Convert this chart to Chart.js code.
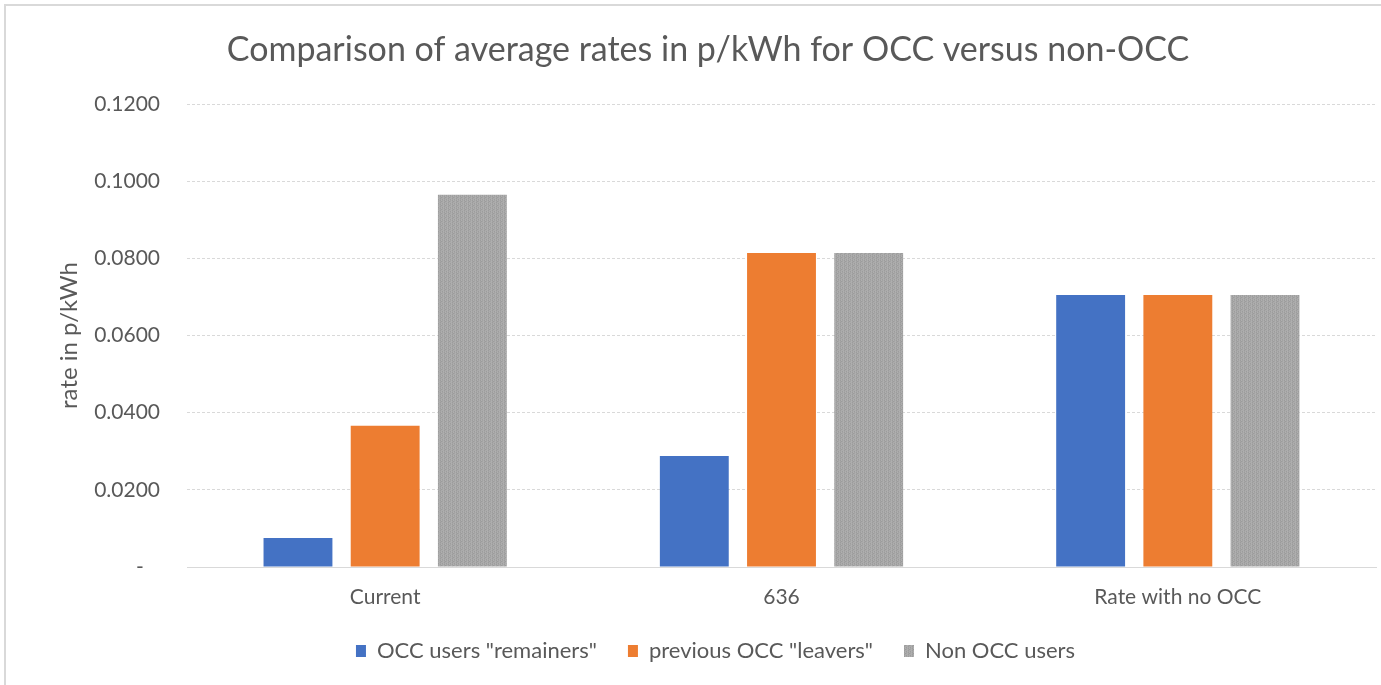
<!DOCTYPE html>
<html>
<head>
<meta charset="utf-8">
<script src="https://cdn.jsdelivr.net/npm/chart.js@4.4.0/dist/chart.umd.min.js"></script>
<style>
  html, body { margin: 0; padding: 0; background: #fff; }
  #wrap { position: relative; width: 1381px; height: 685px; }
  #frame { position: absolute; left: 4px; top: 4px; right: 0; bottom: 0; border-top: 2px solid #D9D9D9; border-left: 2px solid #D9D9D9; pointer-events: none; }
</style>
</head>
<body>
<div id="wrap">
  <canvas id="c" width="1381" height="685"></canvas>
  <div id="frame"></div>
</div>
<script>
const chartTitle = 'Comparison of average rates in p/kWh for OCC versus non-OCC';
const yAxisTitle = 'rate in p/kWh';
const categories = ['Current', '636', 'Rate with no OCC'];
const seriesNames = ['OCC users "remainers"', 'previous OCC "leavers"', 'Non OCC users'];
const remainers = [0.0075, 0.0288, 0.0705];
const leavers = [0.0366, 0.0814, 0.0705];
const nonOcc = [0.0965, 0.0814, 0.0705];
const yTicks = [0, 0.02, 0.04, 0.06, 0.08, 0.10, 0.12];

const FONT = 'Lato';
const TEXT = '#595959';

function grayPattern() {
  const p = document.createElement('canvas');
  p.width = 4; p.height = 4;
  const g = p.getContext('2d');
  const cols = ['#9C9C9C', '#B0B0B0', '#A4A4A4', '#ABABAB'];
  for (let y = 0; y < 4; y++) for (let x = 0; x < 4; x++) {
    g.fillStyle = cols[(x + 2 * y + (x * y) % 3) % 4];
    g.fillRect(x, y, 1, 1);
  }
  return g.createPattern(p, 'repeat');
}
const ctx = document.getElementById('c').getContext('2d');
const gp = grayPattern();

const titlePlugin = {
  id: 'customTitle',
  afterDraw(chart) {
    const c = chart.ctx;
    c.save();
    c.font = `34px ${FONT}`;
    c.fillStyle = TEXT;
    c.textAlign = 'center';
    c.textBaseline = 'middle';
    c.fillText(chartTitle, 708, 50);
    c.restore();
  }
};

new Chart(ctx, {
  type: 'bar',
  data: {
    labels: categories,
    datasets: [
      { label: seriesNames[0], data: remainers, backgroundColor: '#4472C4' },
      { label: seriesNames[1], data: leavers, backgroundColor: '#ED7D31' },
      { label: seriesNames[2], data: nonOcc, backgroundColor: gp }
    ]
  },
  options: {
    responsive: false,
    animation: false,
    layout: { padding: { left: 55, right: 5, top: 104, bottom: 13 } },
    datasets: { bar: { categoryPercentage: 0.66, barPercentage: 0.79 } },
    plugins: {
      title: { display: false },
      tooltip: { enabled: false },
      legend: {
        position: 'bottom',
        labels: {
          color: TEXT,
          font: { family: FONT, size: 22 },
          boxWidth: 10, boxHeight: 12,
          padding: 31
        }
      }
    },
    scales: {
      x: {
        grid: { display: false, drawTicks: false },
        border: { display: true, color: '#D9D9D9', dash: [3, 2] },
        ticks: { color: TEXT, font: { family: FONT, size: 21, lineHeight: 1 }, padding: 20 },
        afterFit(axis) { axis.height = 42; }
      },
      y: {
        min: 0, max: 0.12,
        afterBuildTicks(axis) { axis.ticks = yTicks.map(v => ({ value: v })); },
        grid: { color: '#D9D9D9', drawTicks: false, lineWidth: 1 },
        border: { display: false, dash: [3, 2] },
        ticks: {
          color: TEXT, font: { family: FONT, size: 21 }, padding: 27,
          callback: v => v === 0 ? '-   ' : v.toFixed(4)
        },
        title: { display: true, text: yAxisTitle, color: TEXT, font: { family: FONT, size: 24 }, padding: { top: 0, bottom: 12 } },
        afterFit(axis) { axis.width = 132; }
      }
    }
  },
  plugins: [titlePlugin]
});
</script>
</body>
</html>
